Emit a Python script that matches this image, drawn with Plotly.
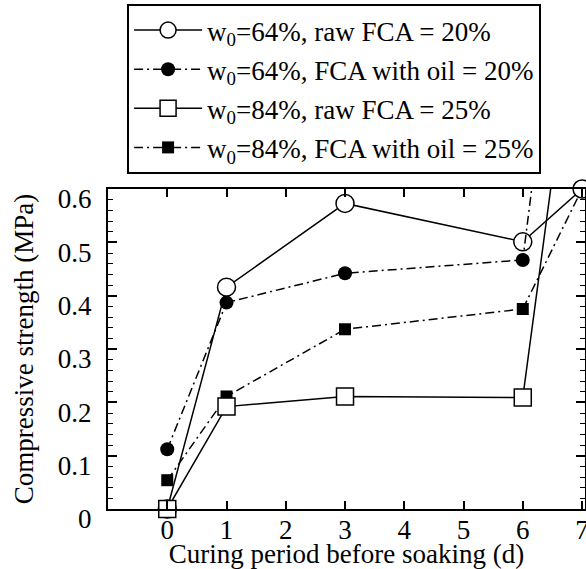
import plotly.graph_objects as go

# Data
days = [0, 1, 3, 6, 7]
raw64 = [0.0, 0.416, 0.573, 0.501, 0.600]
oil64 = [0.112, 0.387, 0.442, 0.467, 1.35]
raw84 = [0.0, 0.192, 0.211, 0.209, 1.04]
oil84 = [0.054, 0.211, 0.337, 0.375, 0.600]

names = [
    "w<sub>0</sub>=64%, raw FCA = 20%",
    "w<sub>0</sub>=64%, FCA with oil = 20%",
    "w<sub>0</sub>=84%, raw FCA = 25%",
    "w<sub>0</sub>=84%, FCA with oil = 25%",
]
x_ticks = [0, 1, 2, 3, 4, 5, 6, 7]
y_ticks = [0, 0.1, 0.2, 0.3, 0.4, 0.5, 0.6]
y_labels = ["0", "0.1", "0.2", "0.3", "0.4", "0.5", "0.6"]

FONT = "Liberation Serif"
FS = 27
DASHDOT = "9px,4px,2px,4px"

fig = go.Figure()

# drawing order chosen so overlaps look like the reference
fig.add_trace(go.Scatter(
    x=days, y=oil84, name=names[3], legendrank=4, legendgroup="d",
    mode="lines+markers",
    line=dict(color="black", width=1.5, dash=DASHDOT),
    marker=dict(symbol="square", size=12, color="black"),
    cliponaxis=False))
fig.add_trace(go.Scatter(
    x=days, y=raw64, name=names[0], legendrank=1, legendgroup="a",
    mode="lines+markers",
    line=dict(color="black", width=1.5),
    marker=dict(symbol="circle", size=18, color="white",
                line=dict(color="black", width=1.5)),
    cliponaxis=False))
fig.add_trace(go.Scatter(
    x=days, y=oil64, name=names[1], legendrank=2, legendgroup="b",
    mode="lines+markers",
    line=dict(color="black", width=1.5, dash=DASHDOT),
    marker=dict(symbol="circle", size=14, color="black"),
    cliponaxis=False))
fig.add_trace(go.Scatter(
    x=days, y=raw84, name=names[2], legendrank=3, legendgroup="c",
    mode="lines+markers",
    line=dict(color="black", width=1.5),
    marker=dict(symbol="square", size=17, color="white",
                line=dict(color="black", width=1.5)),
    cliponaxis=False))

fig.update_layout(
    width=586, height=569,
    margin=dict(l=108, r=1, t=189, b=60),
    paper_bgcolor="white", plot_bgcolor="white",
    font=dict(family=FONT, size=FS, color="black"),
    showlegend=True,
    legend=dict(
        x=0.04, y=1.578, xanchor="left", yanchor="top",
        bgcolor="white", bordercolor="black", borderwidth=2,
        font=dict(family=FONT, size=FS, color="black"),
        itemwidth=68, traceorder="grouped", tracegroupgap=1,
    ),
    xaxis=dict(
        range=[-1, 7.05], tickvals=x_ticks, ticktext=[str(v) for v in x_ticks],
        ticks="inside", ticklen=8, tickwidth=1.5, tickcolor="black",
        showline=True, linecolor="black", linewidth=2, mirror="allticks",
        showgrid=False, zeroline=False, automargin=False,
        ticklabelstandoff=-4, ticklabeloverflow="allow",
        title=dict(text="Curing period before soaking (d)", standoff=0,
                   font=dict(family=FONT, size=FS)),
        tickfont=dict(family=FONT, size=FS),
    ),
    yaxis=dict(
        range=[0, 0.6], tickvals=y_ticks, ticktext=y_labels,
        ticks="inside", ticklen=9, tickwidth=1.5, tickcolor="black",
        minor=dict(dtick=0.02, ticks="inside", ticklen=5, tickwidth=1.2,
                   tickcolor="black", showgrid=False),
        showline=True, linecolor="black", linewidth=2, mirror="allticks",
        showgrid=False, zeroline=False, automargin=False,
        ticklabelshift=10, ticklabelstandoff=9, ticklabeloverflow="allow",
        title=dict(text="Compressive strength (MPa)", standoff=16,
                   font=dict(family=FONT, size=FS)),
        tickfont=dict(family=FONT, size=FS),
    ),
)

fig.write_html("out.html",
               config={"displayModeBar": False},
               post_script="document.body.style.margin='0px';"
                           "document.body.style.overflow='hidden';")
